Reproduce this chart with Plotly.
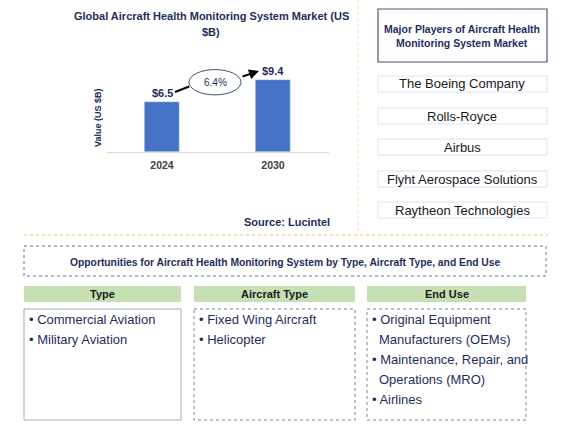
import plotly.graph_objects as go

# ---------------- data ----------------
years = ["2024", "2030"]
values = [6.5, 9.4]
value_labels = ["$6.5", "$9.4"]
cagr_label = "6.4%"
chart_title = ["Global Aircraft Health Monitoring System Market (US", "$B)"]
y_title = "Value (US $B)"
source_text = "Source: Lucintel"
players_title = ["Major Players of Aircraft Health", "Monitoring System Market"]
players = ["The Boeing Company", "Rolls-Royce", "Airbus", "Flyht Aerospace Solutions", "Raytheon Technologies"]
opp_title = "Opportunities for Aircraft Health Monitoring System by Type, Aircraft Type, and End Use"
seg_headers = ["Type", "Aircraft Type", "End Use"]
seg_items = [
    ["Commercial Aviation", "Military Aviation"],
    ["Fixed Wing Aircraft", "Helicopter"],
    [["Original Equipment", "Manufacturers (OEMs)"], ["Maintenance, Repair, and", "Operations (MRO)"], "Airlines"],
]

W, H = 571, 432
FONT = "Liberation Sans, Arial, sans-serif"
NAVY = "#1f2d5e"
BAR = "#4472c4"


def px(x):
    return x / W


def py(y):
    return 1 - y / H


fig = go.Figure()
fig.add_trace(go.Bar(x=[0, 1], y=values, marker_color=BAR, width=0.31,
                     hoverinfo="skip", showlegend=False))

ann = []
shapes = []


def text(x, y, t, size, color=NAVY, xanchor="center", **kw):
    d = dict(x=px(x), y=py(y), xref="paper", yref="paper", text=t, showarrow=False,
             xanchor=xanchor, yanchor="middle", font=dict(size=size, color=color, family=FONT))
    d.update(kw)
    ann.append(d)


# value labels on bars
for i, (v, t) in enumerate(zip(values, value_labels)):
    ann.append(dict(x=i, y=v, xref="x", yref="y", text="<b>%s</b>" % t, showarrow=False,
                    xanchor="center", yanchor="bottom", yshift=1,
                    font=dict(size=11, color=NAVY, family=FONT)))

# CAGR ellipse + arrow (data coords)
shapes.append(dict(type="line", xref="x", yref="y", x0=0.117, y0=7.82, x1=0.245, y1=8.55,
                   line=dict(color="black", width=2)))
shapes.append(dict(type="circle", xref="x", yref="y", x0=0.243, x1=0.712, y0=7.45, y1=10.75,
                   line=dict(color="#44546a", width=1), fillcolor="white", layer="above"))
ann.append(dict(x=0.874, y=10.56, ax=0.712, ay=9.78, xref="x", yref="y", axref="x", ayref="y",
                text="", showarrow=True, arrowhead=2, arrowsize=1, arrowwidth=2, arrowcolor="black"))
ann.append(dict(x=0.4775, y=9.1, xref="x", yref="y", text=cagr_label, showarrow=False,
                xanchor="center", yanchor="middle", font=dict(size=10, color=NAVY, family=FONT)))

# chart title
for j, line in enumerate(chart_title):
    text(211, 16 + 16 * j, "<b>%s</b>" % line, 11)
# y axis title
text(98, 117, "<b>%s</b>" % y_title, 9, textangle=-90)
# source
text(332, 222, "<b>%s</b>" % source_text, 11, xanchor="right")

# separators (yellow dotted)
shapes.append(dict(type="line", xref="paper", yref="paper", x0=px(358), x1=px(358), y0=py(0), y1=py(235),
                   line=dict(color="#f7e2a6", width=1, dash="dot")))
shapes.append(dict(type="line", xref="paper", yref="paper", x0=px(24), x1=px(548), y0=py(235), y1=py(235),
                   line=dict(color="#f3d98e", width=1.5, dash="dot")))

# major players box
shapes.append(dict(type="rect", xref="paper", yref="paper", x0=px(378), x1=px(547), y0=py(9), y1=py(62),
                   line=dict(color="#4a5878", width=1.2), fillcolor="white"))
for j, line in enumerate(players_title):
    text(462, 29 + 14 * j, "<b>%s</b>" % line, 10.5)
box_tops = [76, 108, 139, 171, 202]
for name, top in zip(players, box_tops):
    shapes.append(dict(type="rect", xref="paper", yref="paper", x0=px(378), x1=px(547), y0=py(top), y1=py(top + 16),
                       line=dict(color="#dbe5f0", width=1), fillcolor="white"))
    text(462, top + 8, name, 13, color="#1a1a1a")

# opportunities box
shapes.append(dict(type="rect", xref="paper", yref="paper", x0=px(24), x1=px(546), y0=py(246), y1=py(276),
                   line=dict(color="#6b7590", width=1, dash="dot"), fillcolor="white"))
text(285, 262, "<b>%s</b>" % opp_title, 10.3)

# segment columns
cols = [(24, 181), (194, 355), (367, 526)]
styles = [dict(color="#a4abbb", width=1), dict(color="#7a8398", width=1, dash="dot"),
          dict(color="#7a8398", width=1, dash="dot")]
for (x0, x1), head, items, st in zip(cols, seg_headers, seg_items, styles):
    shapes.append(dict(type="rect", xref="paper", yref="paper", x0=px(x0), x1=px(x1), y0=py(286), y1=py(302),
                       line=dict(width=0), fillcolor="#c6e0b4"))
    text((x0 + x1) / 2, 294, "<b>%s</b>" % head, 11, color="#1a1a1a")
    shapes.append(dict(type="rect", xref="paper", yref="paper", x0=px(x0), x1=px(x1), y0=py(309), y1=py(420),
                       line=st, fillcolor="rgba(0,0,0,0)"))
    row = 0
    for it in items:
        lines = it if isinstance(it, list) else [it]
        for k, ln in enumerate(lines):
            if k == 0:
                txt, xx = "• " + ln, x0 + 2.5
            else:
                txt, xx = ln, x0 + 10
            text(xx, 319 + 20 * row, txt, 13, xanchor="left")
            row += 1

fig.update_layout(
    width=W, height=H, margin=dict(l=0, r=0, t=0, b=0),
    paper_bgcolor="white", plot_bgcolor="white",
    font=dict(family=FONT),
    xaxis=dict(domain=[px(106.5), px(328.5)], range=[-0.5, 1.5], tickmode="array", tickvals=[0, 1],
               ticktext=["<b>%s</b>" % y for y in years], tickfont=dict(size=10.5, color="#404040", family=FONT),
               ticklabelstandoff=3,
               showline=True, linecolor="#d9d9d9", linewidth=1, showgrid=False, zeroline=False, fixedrange=True),
    yaxis=dict(domain=[py(152), py(60)], range=[0, 12], visible=False, showgrid=False, zeroline=False,
               fixedrange=True),
    annotations=ann, shapes=shapes, bargap=0,
)

fig.write_html("out.html", config={"displayModeBar": False},
               post_script="document.body.style.margin='0';")
